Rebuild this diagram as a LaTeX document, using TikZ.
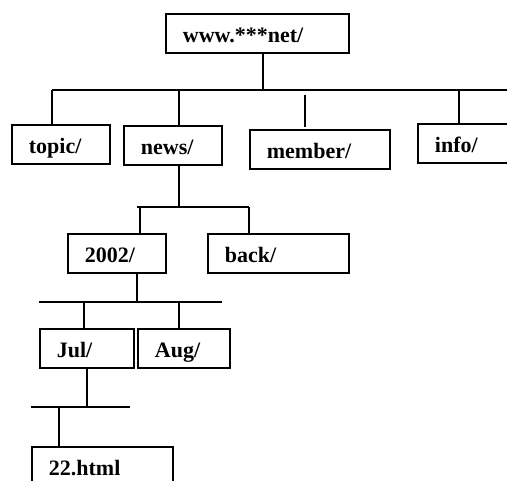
\documentclass[tikz,border=0pt]{standalone}
\usepackage{fontspec}
\setmainfont{Liberation Serif}

\begin{document}
\begin{tikzpicture}[x=1pt,y=-1pt,
    dir/.style={draw,line width=1.8pt,anchor=north west,inner xsep=17pt,
      minimum height=39pt,text height=19pt,text depth=0pt,align=left,
      font=\bfseries\fontsize{22}{26}\selectfont},
    wire/.style={line width=1.8pt}]
  \useasboundingbox (0,0) rectangle (507,481);
  \clip (0,0) rectangle (507,481);
  % folders
  \node[dir,text width=149pt] (root) at (165,13) {www.***net/};
  \node[dir,text width=64pt] (topic) at (11,124) {topic/};
  \node[dir,text width=64pt] (news) at (123,125) {news/};
  \node[dir,text width=106pt] (member) at (249,129) {member/};
  \node[dir,text width=80pt] (info) at (417,123) {info/};
  \node[dir,text width=64pt] (y2002) at (67,233) {2002/};
  \node[dir,text width=107pt] (back) at (207,233) {back/};
  \node[dir,text width=60pt] (jul) at (39,328) {Jul/};
  \node[dir,text width=58pt] (aug) at (137,328) {Aug/};
  \node[dir,text width=107pt] (page22) at (31,446) {22.html};
  % bus points
  \coordinate (r0) at (263,90);
  \coordinate (rL) at (52,90);
  \coordinate (rR) at (515,90);
  \coordinate (r2) at (179,90);
  \coordinate (m1) at (305,95);
  \coordinate (m2) at (305,127);
  \coordinate (r4) at (459,90);
  \coordinate (n0) at (179,207);
  \coordinate (nL) at (137,207);
  \coordinate (n1) at (140,207);
  \coordinate (nR) at (249,207);
  \coordinate (d0) at (137,302);
  \coordinate (dL) at (39,302);
  \coordinate (dR) at (222,302);
  \coordinate (d1) at (84,302);
  \coordinate (d2) at (179,302);
  \coordinate (j0) at (87,407);
  \coordinate (jL) at (31,407);
  \coordinate (jR) at (130,407);
  \coordinate (j1) at (59,407);
  \begin{scope}[wire]
    \draw (r0 |- root.south) -- (r0);
    \draw (rL) -- (rR);
    \draw (rL) -- (rL |- topic.north);
    \draw (r2) -- (r2 |- news.north);
    \draw (m1) -- (m2);
    \draw (r4) -- (r4 |- info.north);
    \draw (n0 |- news.south) -- (n0);
    \draw (nL) -- (nR);
    \draw (n1) -- (n1 |- y2002.north);
    \draw (nR) -- (nR |- back.north);
    \draw (d0 |- y2002.south) -- (d0);
    \draw (dL) -- (dR);
    \draw (d1) -- (d1 |- jul.north);
    \draw (d2) -- (d2 |- aug.north);
    \draw (j0 |- jul.south) -- (j0);
    \draw (jL) -- (jR);
    \draw (j1) -- (j1 |- page22.north);
  \end{scope}
\end{tikzpicture}
\end{document}
